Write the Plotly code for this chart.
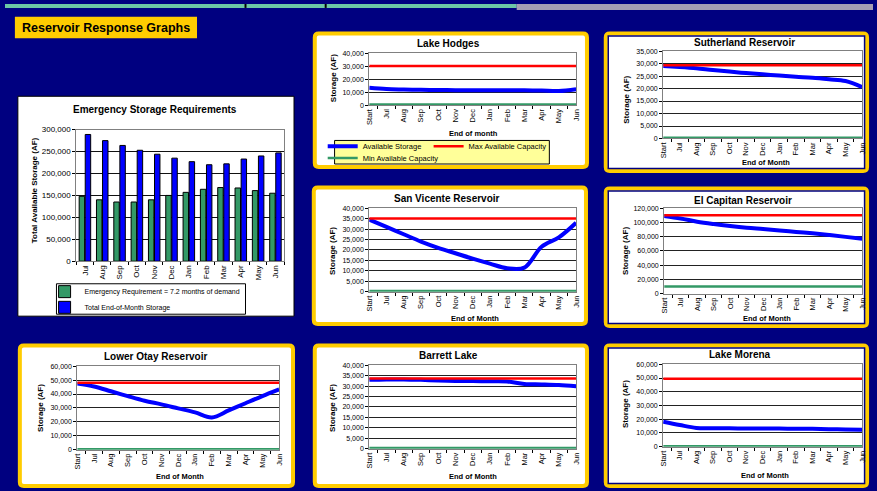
import plotly.graph_objects as go

W, H = 877, 491


def X(px):
    return px / W


def Y(py):
    return 1 - py / H


# ---------------- data ----------------
months13 = ["Start", "Jul", "Aug", "Sep", "Oct", "Nov", "Dec", "Jan", "Feb", "Mar", "Apr", "May", "Jun"]
months12 = ["Jul", "Aug", "Sep", "Oct", "Nov", "Dec", "Jan", "Feb", "Mar", "Apr", "May", "Jun"]

emergency_requirement = [148000, 140000, 135000, 135000, 140000, 150000, 157000, 164000, 168000, 167000, 161000, 155000]
total_storage = [289000, 275000, 264000, 253000, 244000, 235000, 227000, 220000, 222000, 233000, 240000, 247000]

hodges_avail = [13300, 12300, 12000, 11800, 11600, 11500, 11500, 11500, 11500, 11400, 11200, 10800, 12200]
hodges_max = [30000, 30000, 30000, 30000, 30000, 30000, 30000, 30000, 30000, 30000, 30000, 30000, 30000]
hodges_min = [500, 500, 500, 500, 500, 500, 500, 500, 500, 500, 500, 500, 500]

sutherland_avail = [29000, 28600, 28100, 27400, 26800, 26200, 25700, 25200, 24700, 24300, 23700, 23000, 20600]
sutherland_max = [29300, 29300, 29300, 29300, 29300, 29300, 29300, 29300, 29300, 29300, 29300, 29300, 29300]
sutherland_min = [300, 300, 300, 300, 300, 300, 300, 300, 300, 300, 300, 300, 300]

sanvicente_avail = [34500, 31000, 27500, 24000, 21000, 18400, 15800, 13400, 11200, 11500, 21500, 26000, 33000]
sanvicente_max = [35000, 35000, 35000, 35000, 35000, 35000, 35000, 35000, 35000, 35000, 35000, 35000, 35000]
sanvicente_min = [300, 300, 300, 300, 300, 300, 300, 300, 300, 300, 300, 300, 300]

elcapitan_avail = [109000, 105500, 101000, 97700, 94900, 92500, 90700, 88800, 86700, 84700, 82400, 79700, 76900]
elcapitan_max = [110000, 110000, 110000, 110000, 110000, 110000, 110000, 110000, 110000, 110000, 110000, 110000, 110000]
elcapitan_min = [10000, 10000, 10000, 10000, 10000, 10000, 10000, 10000, 10000, 10000, 10000, 10000, 10000]

lowerotay_avail = [47500, 45400, 42000, 38500, 35200, 32600, 29700, 26800, 23200, 28200, 33400, 38500, 43300]
lowerotay_max = [48200, 48200, 48200, 48200, 48200, 48200, 48200, 48200, 48200, 48200, 48200, 48200, 48200]
lowerotay_min = [300, 300, 300, 300, 300, 300, 300, 300, 300, 300, 300, 300, 300]

barrett_avail = [33000, 33200, 33200, 33000, 32700, 32500, 32400, 32300, 32200, 31000, 30800, 30500, 29900]
barrett_max = [33600, 33600, 33600, 33600, 33600, 33600, 33600, 33600, 33600, 33600, 33600, 33600, 33600]
barrett_min = [300, 300, 300, 300, 300, 300, 300, 300, 300, 300, 300, 300, 300]

morena_avail = [18200, 15800, 13700, 13500, 13400, 13300, 13300, 13200, 13100, 13000, 12800, 12600, 12300]
morena_max = [49500, 49500, 49500, 49500, 49500, 49500, 49500, 49500, 49500, 49500, 49500, 49500, 49500]
morena_min = [300, 300, 300, 300, 300, 300, 300, 300, 300, 300, 300, 300, 300]

# ---------------- style ----------------
NAVY = "#000080"
YELLOW = "#ffcc00"
BLUE = "#0000ff"
RED = "#ff0000"
GREEN = "#339966"
FONT = "Liberation Sans, Arial, sans-serif"

charts = [
    dict(title="Lake Hodges", avail=hodges_avail, maxc=hodges_max, minc=hodges_min,
         ymax=40000, dtick=10000, dom=(368, 50, 577, 103), panel=(311, 28, 590, 168), inner=False,
         title_xy=(448, 40), ytitle_xy=(332, 76), xtitle="End of month", xtitle_xy=(473, 132)),
    dict(title="Sutherland Reservoir", avail=sutherland_avail, maxc=sutherland_max, minc=sutherland_min,
         ymax=35000, dtick=5000, dom=(665, 48, 866, 137), panel=(605, 28, 873, 172), inner=True,
         title_xy=(747, 39), ytitle_xy=(628, 98), xtitle="End of Month", xtitle_xy=(769, 161)),
    dict(title="San Vicente Reservoir", avail=sanvicente_avail, maxc=sanvicente_max, minc=sanvicente_min,
         ymax=40000, dtick=5000, dom=(368, 208, 577, 293), panel=(310, 185, 589, 328), inner=False,
         title_xy=(447, 198), ytitle_xy=(331, 252), xtitle="End of Month", xtitle_xy=(475, 320)),
    dict(title="El Capitan Reservoir", avail=elcapitan_avail, maxc=elcapitan_max, minc=elcapitan_min,
         ymax=120000, dtick=20000, dom=(666, 208, 866, 295), panel=(605, 186, 873, 330), inner=True,
         title_xy=(746, 200), ytitle_xy=(627, 252), xtitle="End of Month", xtitle_xy=(770, 320)),
    dict(title="Lower Otay Reservoir", avail=lowerotay_avail, maxc=lowerotay_max, minc=lowerotay_min,
         ymax=60000, dtick=10000, dom=(73, 369, 277, 454), panel=(13, 346, 293, 493), inner=False,
         title_xy=(152, 359), ytitle_xy=(36, 412), xtitle="End of Month", xtitle_xy=(177, 481)),
    dict(title="Barrett Lake", avail=barrett_avail, maxc=barrett_max, minc=barrett_min,
         ymax=40000, dtick=5000, dom=(368, 368, 577, 453), panel=(311, 346, 590, 493), inner=False,
         title_xy=(448, 358), ytitle_xy=(331, 412), xtitle="End of Month", xtitle_xy=(473, 481)),
    dict(title="Lake Morena", avail=morena_avail, maxc=morena_max, minc=morena_min,
         ymax=60000, dtick=10000, dom=(665, 367, 866, 451), panel=(605, 346, 873, 493), inner=True,
         title_xy=(743, 357), ytitle_xy=(627, 408), xtitle="End of Month", xtitle_xy=(768, 480)),
]

fig = go.Figure()
shapes = []
annotations = []


def rrect(x0, y0, x1, y1, r):
    pts = [
        f"M{X(x0 + r)},{Y(y0)}", f"L{X(x1 - r)},{Y(y0)}", f"Q{X(x1)},{Y(y0)} {X(x1)},{Y(y0 + r)}",
        f"L{X(x1)},{Y(y1 - r)}", f"Q{X(x1)},{Y(y1)} {X(x1 - r)},{Y(y1)}",
        f"L{X(x0 + r)},{Y(y1)}", f"Q{X(x0)},{Y(y1)} {X(x0)},{Y(y1 - r)}",
        f"L{X(x0)},{Y(y0 + r)}", f"Q{X(x0)},{Y(y0)} {X(x0 + r)},{Y(y0)}", "Z",
    ]
    return " ".join(pts)


def rect(x0, y0, x1, y1, fill, line=None, lw=0, layer="below"):
    return dict(type="rect", xref="paper", yref="paper", x0=X(x0), x1=X(x1), y0=Y(y1), y1=Y(y0),
                fillcolor=fill, line=dict(color=line or fill, width=lw), layer=layer)


# top strip and header box
shapes.append(rect(0, 0, 517, 4, "#6cc6a6"))
shapes.append(rect(517, 0, 877, 6, "#a59db3"))
shapes.append(rect(242, 0, 244, 4, "black"))
shapes.append(rect(323, 0, 325, 4, "black"))
shapes.append(rect(10, 13, 194, 35, YELLOW))
annotations.append(dict(text="<b>Reservoir Response Graphs</b>", x=X(15), y=Y(24), xref="paper", yref="paper",
                        xanchor="left", yanchor="middle", showarrow=False,
                        font=dict(size=12.5, color="black", family=FONT)))

# emergency panel
shapes.append(rect(13, 94, 292, 318, "white", "black", 1))
shapes.append(rect(52, 285, 243, 316, "white", "black", 1))

# reservoir panels
for c in charts:
    x0, y0, x1, y1 = c["panel"]
    shapes.append(dict(type="path", xref="paper", yref="paper", path=rrect(x0 + 2, y0 + 2, x1 - 2, y1 - 2, 4),
                       fillcolor="white", line=dict(color=YELLOW, width=4), layer="below"))
    if c["inner"]:
        shapes.append(dict(type="rect", xref="paper", yref="paper", x0=X(x0 + 4.5), x1=X(x1 - 4.5),
                           y0=Y(y1 - 4.5), y1=Y(y0 + 4.5), line=dict(color=NAVY, width=1.5),
                           fillcolor="rgba(0,0,0,0)", layer="below"))

# Lake Hodges legend box
shapes.append(rect(333, 139, 550, 163, "#ffff99", "black", 1))

layout_axes = {}

# ---------------- emergency chart ----------------
fig.add_trace(go.Bar(x=months12, y=emergency_requirement, name="Emergency Requirement = 7.2 months of demand",
                     marker=dict(color=GREEN, line=dict(color="black", width=1)),
                     xaxis="x", yaxis="y", legend="legend4"))
fig.add_trace(go.Bar(x=months12, y=total_storage, name="Total End-of-Month Storage",
                     marker=dict(color=BLUE, line=dict(color="black", width=1)),
                     xaxis="x", yaxis="y", legend="legend5"))
layout_axes["xaxis"] = dict(domain=[X(72), X(282)], anchor="y", type="category", tickangle=-90,
                            tickfont=dict(size=8, color="black", family=FONT), ticks="outside", ticklen=3,
                            tickson="boundaries", tickcolor="black", showline=True, linecolor="#808080",
                            mirror=True, showgrid=False, fixedrange=True)
layout_axes["yaxis"] = dict(domain=[Y(262), Y(128)], anchor="x", range=[0, 300000], dtick=50000,
                            tickformat=",", tickfont=dict(size=8, color="black", family=FONT),
                            ticks="outside", ticklen=3, tickcolor="black", showgrid=True, gridcolor="#111",
                            gridwidth=1, showline=True, linecolor="#808080", mirror=True,
                            zeroline=False, fixedrange=True)
annotations.append(dict(text="<b>Emergency Storage Requirements</b>", x=X(152), y=Y(107), xref="paper",
                        yref="paper", showarrow=False, xanchor="center", yanchor="middle",
                        font=dict(size=10, color="black", family=FONT)))
annotations.append(dict(text="<b>Total Available Storage (AF)</b>", x=X(30), y=Y(190), xref="paper",
                        yref="paper", showarrow=False, textangle=-90, xanchor="center", yanchor="middle",
                        font=dict(size=8, color="black", family=FONT)))

# ---------------- reservoir line charts ----------------
for i, c in enumerate(charts, start=2):
    xa, ya = f"x{i}", f"y{i}"
    first = i == 2
    fig.add_trace(go.Scatter(x=months13, y=c["avail"], mode="lines", name="Available Storage",
                             line=dict(color=BLUE, width=4, shape="spline", smoothing=1),
                             xaxis=xa, yaxis=ya, showlegend=first, legend="legend"))
    fig.add_trace(go.Scatter(x=months13, y=c["maxc"], mode="lines", name="Max Available Capacity",
                             line=dict(color=RED, width=2.5), xaxis=xa, yaxis=ya, showlegend=first,
                             legend="legend2"))
    fig.add_trace(go.Scatter(x=months13, y=c["minc"], mode="lines", name="Min Available Capacity",
                             line=dict(color=GREEN, width=2.5), xaxis=xa, yaxis=ya, showlegend=first,
                             legend="legend3"))
    dx0, dy0, dx1, dy1 = c["dom"]
    layout_axes[f"xaxis{i}"] = dict(domain=[X(dx0), X(dx1)], anchor=ya, type="category", tickangle=-90,
                                    tickfont=dict(size=7.5, color="black", family=FONT), ticks="outside",
                                    ticklen=3, tickson="boundaries", tickcolor="black", showline=True,
                                    linecolor="#808080", mirror=True, showgrid=False, fixedrange=True)
    layout_axes[f"yaxis{i}"] = dict(domain=[Y(dy1), Y(dy0)], anchor=xa, range=[0, c["ymax"]], dtick=c["dtick"],
                                    tickformat=",", tickfont=dict(size=7, color="black", family=FONT),
                                    ticks="outside", ticklen=3, tickcolor="black", showgrid=True,
                                    gridcolor="#222", gridwidth=1, showline=True, linecolor="#808080",
                                    mirror=True, zeroline=False, fixedrange=True)
    tx, ty = c["title_xy"]
    annotations.append(dict(text=f"<b>{c['title']}</b>", x=X(tx), y=Y(ty), xref="paper", yref="paper",
                            showarrow=False, xanchor="center", yanchor="middle",
                            font=dict(size=10, color="black", family=FONT)))
    yx, yy = c["ytitle_xy"]
    annotations.append(dict(text="<b>Storage (AF)</b>", x=X(yx), y=Y(yy), xref="paper", yref="paper",
                            showarrow=False, textangle=-90, xanchor="center", yanchor="middle",
                            font=dict(size=8, color="black", family=FONT)))
    xx, xy = c["xtitle_xy"]
    annotations.append(dict(text=f"<b>{c['xtitle']}</b>", x=X(xx), y=Y(xy), xref="paper", yref="paper",
                            showarrow=False, xanchor="center", yanchor="middle",
                            font=dict(size=7.5, color="black", family=FONT)))


def leg(x, y, size):
    return dict(x=X(x), y=Y(y), xanchor="left", yanchor="middle", bgcolor="rgba(0,0,0,0)", borderwidth=0,
                font=dict(size=size, color="black", family=FONT), itemwidth=30, orientation="v")


fig.update_layout(
    width=W, height=H, margin=dict(l=0, r=0, t=0, b=0, pad=0),
    paper_bgcolor=NAVY, plot_bgcolor="white",
    font=dict(family=FONT, color="black"),
    barmode="group", bargap=0.3, bargroupgap=0.1,
    shapes=shapes, annotations=annotations,
    legend=leg(321, 145, 7.5), legend2=leg(428, 145, 7.5), legend3=leg(321, 157, 7.5),
    legend4=leg(40, 293, 7), legend5=leg(40, 309, 7),
    hovermode=False,
    **layout_axes,
)

fig.write_html("out.html")
